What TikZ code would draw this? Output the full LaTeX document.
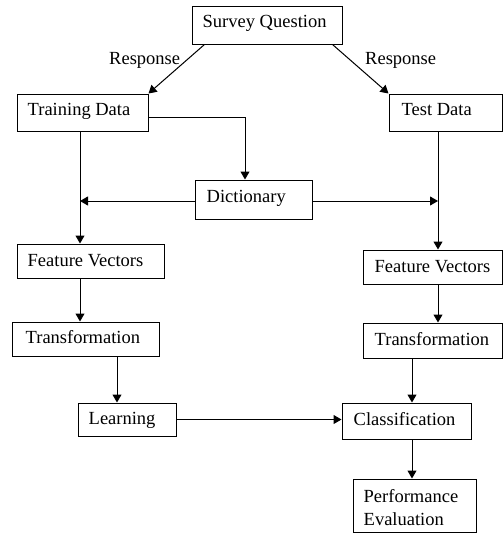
\documentclass[tikz,border=0pt]{standalone}
\usepackage{fontspec}
\setmainfont{Liberation Serif}
\usetikzlibrary{arrows.meta}
\begin{document}
\begin{tikzpicture}[x=1pt, y=-1pt,
  every node/.style={font=\fontsize{18.5}{23}\selectfont},
  box/.style={draw, line width=1pt, rectangle, inner sep=0pt},
  txt/.style={inner sep=0pt, anchor=base west},
  flow/.style={line width=1pt, -{Triangle[length=8pt,width=9pt]}}]
\useasboundingbox (0,0) rectangle (503,533);

% boxes, each with its caption set from the left edge
\node[box, minimum width=150pt, minimum height=38pt,
  label={[txt, xshift=11pt, yshift=-2pt]west:Survey Question}] (sq) at (267,25) {};
\node[box, minimum width=131pt, minimum height=37pt,
  label={[txt, xshift=11pt, yshift=-2.5pt]west:Training Data}] (tr) at (82.5,112.5) {};
\node[box, minimum width=113pt, minimum height=37pt,
  label={[txt, xshift=13pt, yshift=-2.5pt]west:Test Data}] (te) at (445.5,112.5) {};
\node[box, minimum width=117pt, minimum height=39pt,
  label={[txt, xshift=12pt, yshift=-2.5pt]west:Dictionary}] (dict) at (253.5,199.5) {};
\node[box, minimum width=147pt, minimum height=34pt,
  label={[txt, xshift=11pt, yshift=-5pt]west:Feature Vectors}] (fvL) at (90.5,261) {};
\node[box, minimum width=139pt, minimum height=34pt,
  label={[txt, xshift=12pt, yshift=-5pt]west:Feature Vectors}] (fvR) at (432.5,267) {};
\node[box, minimum width=147pt, minimum height=34pt,
  label={[txt, xshift=14pt, yshift=-4pt]west:Transformation}] (trL) at (85.5,339) {};
\node[box, minimum width=139pt, minimum height=35pt,
  label={[txt, xshift=12pt, yshift=-4.5pt]west:Transformation}] (trR) at (432.5,340.5) {};
\node[box, minimum width=98pt, minimum height=33pt,
  label={[txt, xshift=11pt, yshift=-4.5pt]west:Learning}] (learn) at (127,419.5) {};
\node[box, minimum width=129pt, minimum height=36pt,
  label={[txt, xshift=12pt, yshift=-4pt]west:Classification}] (class) at (406.5,421) {};
\node[box, minimum width=123pt, minimum height=53pt,
  label={[inner sep=0pt, anchor=north west, align=left, xshift=11pt, yshift=16pt]west:Performance\\Evaluation}] (perf) at (414.5,505.5) {};

% edge captions
\node[txt] (resp1) at (109,64) {Response};
\node[txt] (resp2) at (365,64.5) {Response};

% routing points
\coordinate (trfoot) at ([xshift=-2.5pt]tr.south);
\coordinate (tefoot) at ([xshift=-7.5pt]te.south);
\coordinate (cin) at ([xshift=5.5pt]class.north);

% connectors
\draw[flow] ([xshift=13pt]sq.south west) -- (tr.north east);
\draw[flow] ([xshift=-10pt]sq.south east) -- (te.north west);
\draw[flow] ([yshift=-4.5pt]tr.east) -| ([xshift=-8.5pt]dict.north);
\draw[flow] (trfoot) -- (trfoot |- fvL.north);
\draw[flow] ([yshift=-1.5pt]dict.west) -- ([yshift=-1.5pt]dict.west -| trfoot);
\draw[flow] ([yshift=-1.5pt]dict.east) -- ([yshift=-1.5pt]dict.east -| tefoot);
\draw[flow] (tefoot) -- (tefoot |- fvR.north);
\draw[flow] (fvL.south -| trfoot) -- (trL.north -| trfoot);
\draw[flow] ([xshift=-10pt]learn.north |- trL.south) -- ([xshift=-10pt]learn.north);
\draw[flow] (fvR.south -| tefoot) -- (trR.north -| tefoot);
\draw[flow] (trR.south -| cin) -- (cin);
\draw[flow] (learn.east) -- (learn.east -| class.west);
\draw[flow] ([xshift=5.5pt]class.south) -- ([xshift=5.5pt]class.south |- perf.north);
\end{tikzpicture}
\end{document}
